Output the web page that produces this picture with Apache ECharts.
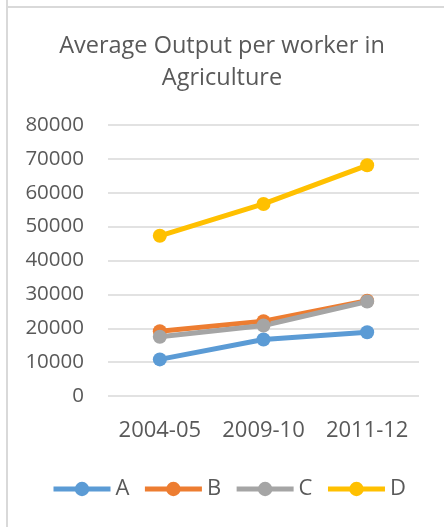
<!DOCTYPE html>
<html><head><meta charset="utf-8">
<script src="https://cdn.jsdelivr.net/npm/echarts@6/dist/echarts.min.js"></script>
<style>html,body{margin:0;padding:0;background:#fff}#c{width:444px;height:527px}</style>
</head><body><div id="c"></div>
<script>
const categories = ['2004-05', '2009-10', '2011-12'];
const seriesNames = ['A', 'B', 'C', 'D'];
const valuesA = [10800, 16700, 18800];
const valuesB = [19100, 22100, 28100];
const valuesC = [17500, 20800, 27900];
const valuesD = [47300, 56700, 68100];
const yTicks = [0, 10000, 20000, 30000, 40000, 50000, 60000, 70000, 80000];
const colors = ['#5B9BD5', '#ED7D31', '#A5A5A5', '#FFC000'];
const allValues = [valuesA, valuesB, valuesC, valuesD];

const FONT = 'Open Sans';
const chart = echarts.init(document.getElementById('c'));
chart.setOption({
  animation: false,
  color: colors,
  title: {
    text: 'Average Output per worker in\nAgriculture',
    left: 'center', top: 25,
    textStyle: { fontFamily: FONT, fontSize: 23.5, fontWeight: 'normal', color: '#595959', lineHeight: 32 }
  },
  graphic: [
    { type: 'line', shape: { x1: 7, y1: 0, x2: 7, y2: 527 }, style: { stroke: '#D9D9D9', lineWidth: 2 } },
    { type: 'line', shape: { x1: 6, y1: 7, x2: 444, y2: 7 }, style: { stroke: '#D9D9D9', lineWidth: 2 } }
  ],
  legend: {
    top: 473, left: 46,
    itemWidth: 57, itemHeight: 18, itemGap: 13,
    lineStyle: { width: 5 },
    textStyle: { fontFamily: FONT, fontSize: 22, color: '#595959' },
    data: seriesNames
  },
  grid: { left: 108, right: 25, top: 125, bottom: 131, containLabel: false },
  xAxis: {
    type: 'category', data: categories, boundaryGap: true,
    axisLine: { show: false }, axisTick: { show: false },
    axisLabel: { fontFamily: FONT, fontSize: 22, color: '#595959', margin: 24, interval: 0, hideOverlap: false }
  },
  yAxis: {
    type: 'value', min: yTicks[0], max: yTicks[yTicks.length - 1], interval: 10000,
    axisLine: { show: false }, axisTick: { show: false },
    axisLabel: { fontFamily: FONT, fontSize: 20.5, color: '#595959', margin: 24, formatter: v => String(v) },
    splitLine: { lineStyle: { color: '#D9D9D9', width: 1.5 } }
  },
  series: seriesNames.map((n, i) => ({
    name: n, type: 'line', data: allValues[i],
    symbol: 'circle', symbolSize: 14,
    lineStyle: { width: 5, color: colors[i] },
    itemStyle: { color: colors[i] }
  }))
});
</script></body></html>
